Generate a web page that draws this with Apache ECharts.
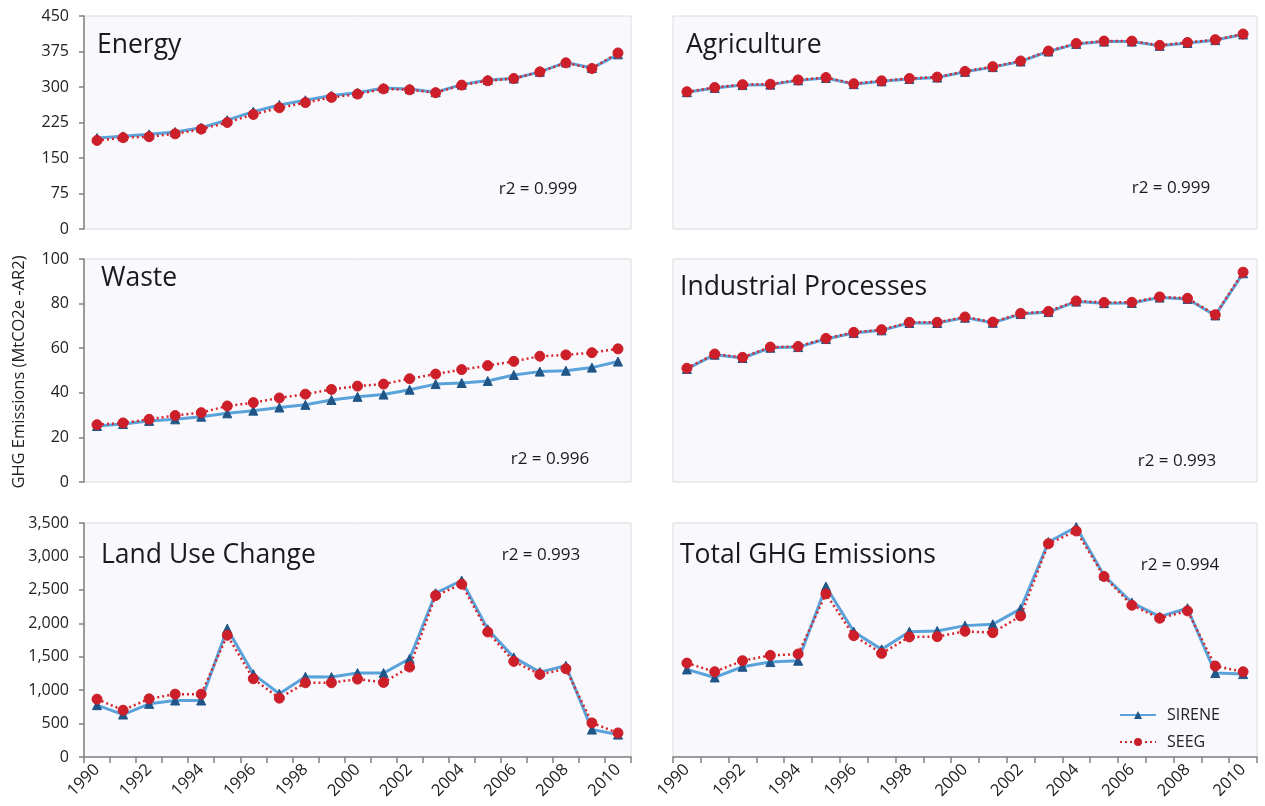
<!DOCTYPE html>
<html><head><meta charset="utf-8">
<script src="https://cdn.jsdelivr.net/npm/echarts@6/dist/echarts.min.js"></script>
<style>html,body{margin:0;padding:0;background:#fff}#c{width:1265px;height:806px}</style>
</head><body><div id="c"></div>
<script>
const years = ['1990','1991','1992','1993','1994','1995','1996','1997','1998','1999','2000','2001','2002','2003','2004','2005','2006','2007','2008','2009','2010'];

const energySirene = [192,196,200,205,214,230,248,262,272,282,288,298,296,289,305,315,318,332,352,340,369];
const energySeeg   = [187,193,195,201,211,225,242,256,267,278,285,296,294,288,304,313,318,332,351,339,372];

const agriSirene = [289,298,304,305,314,319,306,312,317,320,332,342,354,375,391,396,396,387,393,399,411];
const agriSeeg   = [290,299,305,306,315,320,307,313,318,321,333,343,355,376,392,397,397,388,394,400,412];

const wasteSirene = [25.1,26.0,27.4,28.1,29.3,30.8,32.0,33.4,34.6,36.8,38.2,39.2,41.4,43.9,44.4,45.3,48.0,49.5,49.9,51.3,54.0];
const wasteSeeg   = [25.7,26.5,28.1,29.8,31.1,34.1,35.6,37.7,39.4,41.5,43.0,43.9,46.3,48.4,50.4,52.2,54.1,56.4,57.0,58.0,59.7];

const indSirene = [50.7,57.1,55.6,60.2,60.5,64.1,66.8,68.0,71.3,71.3,73.7,71.4,75.3,76.2,80.9,80.2,80.3,82.7,82.1,74.7,93.6];
const indSeeg   = [51.0,57.4,55.9,60.5,60.8,64.4,67.1,68.3,71.6,71.6,74.0,71.7,75.6,76.5,81.2,80.5,80.6,83.0,82.4,75.0,94.1];

const lucSirene = [775,635,795,845,845,1920,1240,945,1200,1195,1255,1255,1470,2450,2640,1910,1490,1270,1365,410,335];
const lucSeeg   = [865,700,870,940,940,1820,1170,880,1110,1110,1165,1115,1345,2415,2585,1870,1430,1235,1320,510,360];

const totSirene = [1310,1190,1350,1420,1440,2550,1875,1610,1875,1885,1965,1985,2215,3215,3440,2715,2310,2100,2225,1255,1240];
const totSeeg   = [1405,1275,1440,1520,1540,2440,1815,1550,1795,1800,1880,1860,2110,3190,3380,2700,2270,2075,2185,1360,1275];

const panelTitles = ['Energy','Agriculture','Waste','Industrial Processes','Land Use Change','Total GHG Emissions'];
const r2Labels = ['r2 = 0.999','r2 = 0.999','r2 = 0.996','r2 = 0.993','r2 = 0.993','r2 = 0.994'];
const seriesNames = ['SIRENE','SEEG'];
const yAxisTitle = 'GHG Emissions (MtCO2e -AR2)';

const FONT = '"Open Sans", "DejaVu Sans", sans-serif';
const BLUE = '#5aa3da', NAVY = '#1f5587', RED = '#d7262b';

const L = {x: 84, w: 547}, R = {x: 673, w: 584};
const rows = [{top: 16, h: 213}, {top: 259, h: 223}, {top: 523, h: 234}];
const grids = [];
for (let r = 0; r < 3; r++) {
  for (const c of [L, R]) {
    grids.push({left: c.x, top: rows[r].top, width: c.w, height: rows[r].h,
      show: true, backgroundColor: '#f9f9fd', borderColor: '#dcdcdc', borderWidth: 1, containLabel: false});
  }
}
const yRanges = [[0,450,75],[0,450,75],[0,100,20],[0,100,20],[0,3500,500],[0,3500,500]];

const xAxes = grids.map((g, i) => {
  const bottom = i >= 4;
  return {
    type: 'category', gridIndex: i, data: years, boundaryGap: true,
    axisLine: {show: bottom, lineStyle: {color: '#808080', width: 1.5}},
    axisTick: {show: bottom, interval: 0, length: 6, lineStyle: {color: '#808080', width: 1.5}},
    axisLabel: {show: bottom, interval: 1, rotate: 45, margin: 10, fontSize: 16.5, color: '#222', fontFamily: FONT},
    splitLine: {show: false}
  };
});
const yAxes = grids.map((g, i) => {
  const left = i % 2 === 0;
  const [mn, mx, iv] = yRanges[i];
  return {
    type: 'value', gridIndex: i, min: mn, max: mx, interval: iv,
    axisLine: {show: left, lineStyle: {color: '#808080', width: 1.5}},
    axisTick: {show: left, length: 5, lineStyle: {color: '#808080', width: 1.5}},
    axisLabel: {show: left, fontSize: 16, color: '#222', fontFamily: FONT, margin: 15,
      formatter: v => v.toLocaleString('en-US')},
    splitLine: {show: false}
  };
});

const pairs = [[energySirene, energySeeg],[agriSirene, agriSeeg],[wasteSirene, wasteSeeg],[indSirene, indSeeg],[lucSirene, lucSeeg],[totSirene, totSeeg]];
const series = [];
pairs.forEach((p, i) => {
  series.push({
    name: seriesNames[0], type: 'line', xAxisIndex: i, yAxisIndex: i, data: p[0],
    symbol: 'triangle', symbolSize: 9, z: 2,
    lineStyle: {color: BLUE, width: 3},
    itemStyle: {color: NAVY, borderColor: NAVY},
    emphasis: {disabled: true}
  });
  series.push({
    name: seriesNames[1], type: 'line', xAxisIndex: i, yAxisIndex: i, data: p[1],
    symbol: 'circle', symbolSize: 10, z: 3,
    lineStyle: {color: RED, width: 2.5, type: [2, 3]},
    itemStyle: {color: '#cc1f2a', borderColor: '#cc1f2a'},
    emphasis: {disabled: true}
  });
});

const titlePos = [[97,45],[686,45],[101,278],[680,287],[101,555],[680,555]];
const r2Pos = [[538,189],[1171,188],[550,459],[1177,461],[541,555],[1180,565]];
const graphics = [];
panelTitles.forEach((t, i) => {
  graphics.push({type: 'text', x: titlePos[i][0], y: titlePos[i][1], z: 10,
    style: {text: t, fontSize: 26.5, fontFamily: FONT, fill: '#1a1a1a', textAlign: 'left', textVerticalAlign: 'middle'}});
  graphics.push({type: 'text', x: r2Pos[i][0], y: r2Pos[i][1], z: 10,
    style: {text: r2Labels[i], fontSize: 17, fontFamily: FONT, fill: '#1a1a1a', textAlign: 'center', textVerticalAlign: 'middle'}});
});
graphics.push({type: 'text', x: 19, y: 372, rotation: Math.PI / 2, z: 10,
  style: {text: yAxisTitle, fontSize: 16.5, fontFamily: FONT, fill: '#222', textAlign: 'center', textVerticalAlign: 'middle'}});

const chart = echarts.init(document.getElementById('c'), null, {renderer: 'canvas'});
chart.setOption({
  animation: false,
  backgroundColor: '#ffffff',
  grid: grids, xAxis: xAxes, yAxis: yAxes, series: series,
  graphic: graphics,
  legend: {
    data: seriesNames, orient: 'vertical', left: 1114, top: 702,
    itemWidth: 36, itemHeight: 10, itemGap: 11,
    textStyle: {fontSize: 16, fontFamily: FONT, color: '#222', padding: [0, 0, 0, 6]}
  }
});
</script></body></html>
